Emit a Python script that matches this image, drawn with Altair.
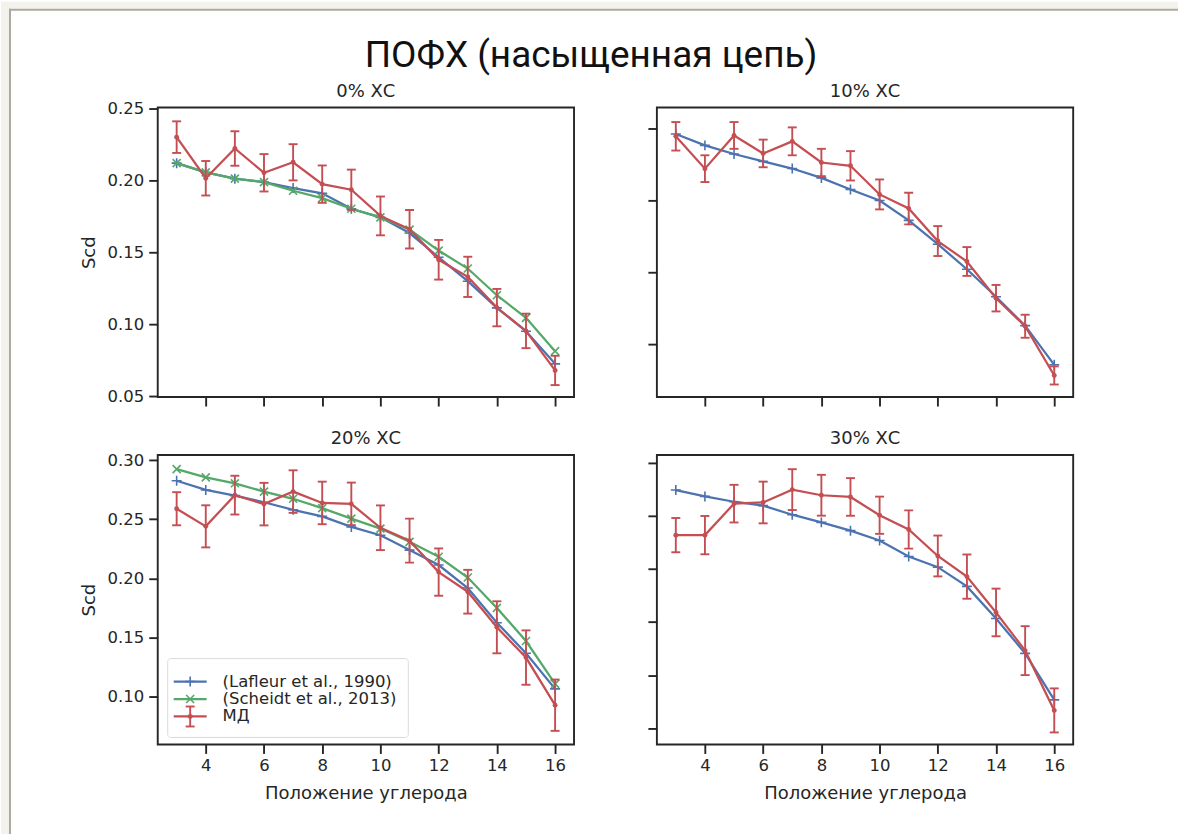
import altair as alt
import pandas as pd

# ---------------- data ----------------
positions = [3, 4, 5, 6, 7, 8, 9, 10, 11, 12, 13, 14, 15, 16]

panel_titles = ["0% ХС", "10% ХС", "20% ХС", "30% ХС"]
main_title = "ПОФХ (насыщенная цепь)"
x_title = "Положение углерода"
y_title = "Scd"
series_names = ["(Lafleur et al., 1990)", "(Scheidt et al., 2013)", "МД"]

lafleur_0 = [0.212, 0.2056, 0.2012, 0.1988, 0.1947, 0.191, 0.1803, 0.1743, 0.1634, 0.1465, 0.1299, 0.1113, 0.0951, 0.0724]
scheidt_0 = [0.212, 0.2056, 0.2012, 0.1988, 0.1928, 0.1877, 0.1803, 0.1743, 0.1658, 0.1512, 0.1387, 0.1201, 0.1044, 0.0812]
md_0 = [0.2301, 0.2015, 0.2222, 0.2053, 0.2126, 0.1974, 0.1935, 0.1753, 0.166, 0.1448, 0.1329, 0.1115, 0.0953, 0.0678]
md_0_err = [0.011, 0.012, 0.012, 0.013, 0.0126, 0.013, 0.014, 0.0135, 0.0134, 0.0138, 0.014, 0.013, 0.012, 0.0102]

lafleur_10 = [0.2461, 0.2382, 0.2322, 0.2271, 0.2221, 0.2156, 0.2075, 0.1999, 0.1861, 0.1695, 0.1521, 0.133, 0.1129, 0.0857]
md_10 = [0.2445, 0.222, 0.2451, 0.2326, 0.241, 0.2263, 0.224, 0.2041, 0.1943, 0.1717, 0.1575, 0.132, 0.1125, 0.0783]
md_10_err = [0.0099, 0.0093, 0.0093, 0.0096, 0.0097, 0.0095, 0.0102, 0.0104, 0.011, 0.0104, 0.01, 0.0092, 0.008, 0.0063]

lafleur_20 = [0.2826, 0.2748, 0.27, 0.2644, 0.258, 0.2524, 0.2435, 0.2365, 0.2239, 0.2113, 0.1918, 0.1624, 0.1367, 0.1065]
scheidt_20 = [0.2924, 0.2854, 0.2804, 0.2734, 0.2673, 0.2594, 0.2505, 0.2421, 0.2309, 0.2183, 0.2007, 0.175, 0.147, 0.1107]
md_20 = [0.2589, 0.244, 0.2704, 0.2628, 0.2734, 0.2638, 0.263, 0.2428, 0.2319, 0.2053, 0.1887, 0.1586, 0.133, 0.0927]
md_20_err = [0.014, 0.0178, 0.0164, 0.018, 0.018, 0.018, 0.018, 0.0189, 0.0186, 0.02, 0.0185, 0.022, 0.023, 0.0217]

lafleur_30 = [0.2742, 0.2682, 0.2632, 0.2595, 0.251, 0.2438, 0.236, 0.2267, 0.2117, 0.2017, 0.1836, 0.1534, 0.1206, 0.0769]
md_30 = [0.2318, 0.2318, 0.2614, 0.2625, 0.2746, 0.2693, 0.2677, 0.2505, 0.2371, 0.2122, 0.1928, 0.1591, 0.1232, 0.067]
md_30_err = [0.0161, 0.018, 0.0177, 0.0196, 0.0192, 0.0192, 0.0177, 0.0175, 0.018, 0.0192, 0.0208, 0.0224, 0.023, 0.0207]

x_ticks = [4, 6, 8, 10, 12, 14, 16]

# ---------------- styling ----------------
BLUE = "#4c72b0"
GREEN = "#55a868"
RED = "#c44e52"
INK = "#262626"
FONT = "DejaVu Sans"
PLUS = "M-1,0L1,0M0,-1L0,1"
CROSS = "M-1,-1L1,1M-1,1L1,-1"
W, H = 417, 290

def xenc(bottom):
    return alt.X(
        "pos:Q",
        scale=alt.Scale(domain=[2.35, 16.65], nice=False, zero=False),
        axis=alt.Axis(values=x_ticks, labels=bottom, domain=False, grid=False,
                      tickSize=9, tickWidth=1.9, tickColor=INK,
                      labelFont=FONT, labelFontSize=16.5, labelColor=INK, labelPadding=4,
                      titleFont=FONT, titleFontSize=18, titleFontWeight="normal",
                      titleColor=INK, titlePadding=11),
        title=x_title if bottom else None,
    )

def yenc(field, ydomain, yticks, left):
    return alt.Y(
        f"{field}:Q",
        scale=alt.Scale(domain=ydomain, nice=False, zero=False),
        axis=alt.Axis(values=yticks, format=".2f", labels=left, domain=False, grid=False,
                      tickSize=9, tickWidth=1.9, tickColor=INK,
                      labelFont=FONT, labelFontSize=16.5, labelColor=INK, labelPadding=5,
                      titleFont=FONT, titleFontSize=18, titleFontWeight="normal",
                      titleColor=INK, titlePadding=9),
        title=y_title if left else None,
    )

dummy = pd.DataFrame({"k": [0]})

def make_panel(title, refs, md, md_err, ydomain, yticks, bottom, left, extra_front=(), extra_back=()):
    layers = list(extra_back)
    for values, color, shape, size in refs:
        d = pd.DataFrame({"pos": positions, "val": values})
        layers.append(alt.Chart(d).mark_line(color=color, strokeWidth=2.25)
                      .encode(x=xenc(bottom), y=yenc("val", ydomain, yticks, left)))
        layers.append(alt.Chart(d).mark_point(shape=shape, filled=False, color=color,
                                              strokeWidth=1.6, size=size, opacity=1)
                      .encode(x=xenc(bottom), y=yenc("val", ydomain, yticks, left)))
    d = pd.DataFrame({"pos": positions, "val": md, "err": md_err})
    d["lo"] = d["val"] - d["err"]
    d["hi"] = d["val"] + d["err"]
    layers.append(alt.Chart(d).mark_rule(color=RED, strokeWidth=1.9)
                  .encode(x=xenc(bottom), y=yenc("lo", ydomain, yticks, left), y2="hi:Q"))
    for f in ["lo", "hi"]:
        layers.append(alt.Chart(d).mark_tick(orient="horizontal", color=RED, size=9,
                                             thickness=1.9, opacity=1)
                      .encode(x=xenc(bottom), y=yenc(f, ydomain, yticks, left)))
    layers.append(alt.Chart(d).mark_line(color=RED, strokeWidth=2.25)
                  .encode(x=xenc(bottom), y=yenc("val", ydomain, yticks, left)))
    layers.append(alt.Chart(d).mark_circle(color=RED, size=24, opacity=1)
                  .encode(x=xenc(bottom), y=yenc("val", ydomain, yticks, left)))
    # panel title as a text mark above the plot area
    layers.append(alt.Chart(dummy).mark_text(font=FONT, fontSize=18, color=INK,
                                             align="center", baseline="middle").encode(
        x=alt.value(W / 2), y=alt.value(-16), text=alt.value(title)))
    layers += list(extra_front)
    return alt.layer(*layers).properties(width=W, height=H)

def rect(x, x2, y, y2, color):
    return alt.Chart(dummy).mark_rect(color=color, opacity=1).encode(
        x=alt.value(x), x2=alt.value(x2), y=alt.value(y), y2=alt.value(y2))

# page frame (decoration around the figure) + main title, relative to top-left panel
OX, OY = 157, 106
frame = [
    rect(-OX, 1179 - OX, -OY, 7 - OY, "#f4f2ec"),
    rect(-OX, 8 - OX, -OY, 834 - OY, "#f4f2ec"),
    rect(8 - OX, 1179 - OX, 7 - OY, 9 - OY, "#aea99f"),
    rect(8 - OX, 10 - OX, 7 - OY, 834 - OY, "#aea99f"),
]
main = alt.Chart(dummy).mark_text(font="Roboto", fontSize=37, color="#111111",
                                  align="center", baseline="alphabetic").encode(
    x=alt.value(591 - OX), y=alt.value(65 - OY), text=alt.value(main_title))

# legend in the 20% panel
def leg_text(y, s):
    return alt.Chart(dummy).mark_text(font=FONT, fontSize=16.5, color=INK, align="left",
                                      baseline="middle").encode(
        x=alt.value(65), y=alt.value(y), text=alt.value(s))

def leg_line(y, color):
    return alt.Chart(dummy).mark_rule(color=color, strokeWidth=2.25).encode(
        x=alt.value(16), x2=alt.value(49), y=alt.value(y))

legend = [
    alt.Chart(dummy).mark_rect(fill="white", stroke="#d6d6d6", strokeWidth=1,
                               cornerRadius=3, opacity=0.85).encode(
        x=alt.value(10), x2=alt.value(251), y=alt.value(204), y2=alt.value(283)),
    leg_line(227, BLUE),
    alt.Chart(dummy).mark_point(shape=PLUS, filled=False, color=BLUE, strokeWidth=1.6,
                                size=100, opacity=1).encode(x=alt.value(32.5), y=alt.value(227)),
    leg_text(227, series_names[0]),
    leg_line(244.5, GREEN),
    alt.Chart(dummy).mark_point(shape=CROSS, filled=False, color=GREEN, strokeWidth=1.6,
                                size=64, opacity=1).encode(x=alt.value(32.5), y=alt.value(244.5)),
    leg_text(244.5, series_names[1]),
    leg_line(262, RED),
    alt.Chart(dummy).mark_rule(color=RED, strokeWidth=1.9).encode(
        x=alt.value(32.5), y=alt.value(252), y2=alt.value(272)),
    alt.Chart(dummy).mark_rule(color=RED, strokeWidth=1.9).encode(
        x=alt.value(28), x2=alt.value(37), y=alt.value(252)),
    alt.Chart(dummy).mark_rule(color=RED, strokeWidth=1.9).encode(
        x=alt.value(28), x2=alt.value(37), y=alt.value(272)),
    alt.Chart(dummy).mark_circle(color=RED, size=24, opacity=1).encode(
        x=alt.value(32.5), y=alt.value(262)),
    leg_text(262, series_names[2]),
]

p1 = make_panel(panel_titles[0],
                [(lafleur_0, BLUE, PLUS, 100), (scheidt_0, GREEN, CROSS, 64)],
                md_0, md_0_err, [0.0493, 0.2507], [0.05, 0.10, 0.15, 0.20, 0.25],
                bottom=False, left=True, extra_back=frame, extra_front=[main])
p2 = make_panel(panel_titles[1], [(lafleur_10, BLUE, PLUS, 100)],
                md_10, md_10_err, [0.0633, 0.2645], [0.10, 0.15, 0.20, 0.25],
                bottom=False, left=False)
p3 = make_panel(panel_titles[2],
                [(lafleur_20, BLUE, PLUS, 100), (scheidt_20, GREEN, CROSS, 64)],
                md_20, md_20_err, [0.0595, 0.3044], [0.10, 0.15, 0.20, 0.25, 0.30],
                bottom=True, left=True, extra_front=legend)
p4 = make_panel(panel_titles[3], [(lafleur_30, BLUE, PLUS, 100)],
                md_30, md_30_err, [0.035, 0.3072], [0.05, 0.10, 0.15, 0.20, 0.25, 0.30],
                bottom=True, left=False)

chart = alt.concat(p1, p2, p3, p4, columns=2, spacing={"row": 58, "column": 83},
                   bounds="flush").properties(
    padding={"left": 0, "top": 0, "right": 0, "bottom": 0},
    background="white",
).configure_view(stroke=INK, strokeWidth=1.9)

chart.save("out.html", embed_options={"renderer": "svg", "actions": False})
